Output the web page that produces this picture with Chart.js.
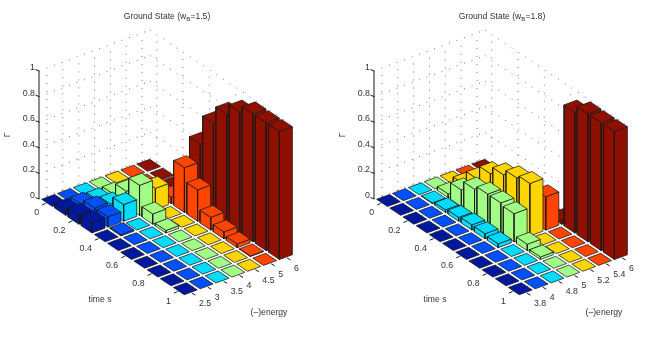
<!DOCTYPE html>
<html>
<head>
<meta charset="utf-8">
<title>Ground State</title>
<script src="https://cdn.jsdelivr.net/npm/chart.js@4"></script>
<style>
    html, body { margin: 0; padding: 0; background: #fff; }
    canvas { position: absolute; top: 0; }
</style>
</head>
<body>
<canvas id="leftChart" width="330" height="352" style="left:0"></canvas>
<canvas id="rightChart" width="330" height="352" style="left:335px"></canvas>
<script>
const timeTicks = ['0', '0.2', '0.4', '0.6', '0.8', '1'];
const gammaTicks = [0, 0.2, 0.4, 0.6, 0.8, 1];
const energyTicksLeft = ['2.5', '3', '3.5', '4', '4.5', '5', '6'];
const energyTicksRight = ['3.8', '4', '4.8', '5', '5.2', '5.4', '6'];
const columnColors = ['#00189e', '#0050ff', '#00dcff', '#a0ff84', '#ffd500', '#ff4500', '#8f1000'];

// one row per time step, one value per energy column
const gammaLeft = [
    [0, 0, 0, 0, 0, 0, 0],
    [0.04, 0.04, 0.03, 0.03, 0.01, 0, 0],
    [0.07, 0.08, 0.065, 0.12, 0.03, 0.01, 0.01],
    [0.08, 0.08, 0.13, 0.235, 0.165, 0.05, 0.15],
    [0, 0.01, 0, 0.08, 0, 0.35, 0.49],
    [0, 0, 0, 0.02, 0, 0.245, 0.72],
    [0, 0, 0, 0, 0, 0.1, 0.86],
    [0, 0, 0, 0, 0, 0.055, 0.945],
    [0, 0, 0, 0, 0, 0.03, 1],
    [0, 0, 0, 0, 0, 0.005, 1],
    [0, 0, 0, 0, 0, 0, 1],
];
const gammaRight = [
    [0, 0, 0, 0, 0, 0, 0],
    [0, 0, 0.005, 0.03, 0.06, 0, 0],
    [0, 0, 0.02, 0.13, 0.17, 0, 0],
    [0, 0, 0.03, 0.205, 0.28, 0, 0],
    [0, 0, 0.04, 0.235, 0.34, 0, 0],
    [0, 0, 0.04, 0.235, 0.385, 0, 0],
    [0, 0, 0.03, 0.22, 0.41, 0.26, 0.03],
    [0, 0, 0, 0.05, 0, 0, 0.945],
    [0, 0, 0, 0.02, 0, 0, 1],
    [0, 0, 0, 0, 0, 0, 1],
    [0, 0, 0, 0, 0, 0, 1],
];

// view of the 3D box on the flat x/y scales
const ORIGIN = { x: 39, y: 199 };
const TIME_VEC = { x: 145, y: 97 };
const ENERGY_VEC = { x: 111, y: -41 };
const Z_LEN = 128;
const BAR_HALF_T = 0.41;
const BAR_HALF_E = 0.41;
const TEXT_COLOR = '#333';
const EDGE_COLOR = '#1a1a1a';
const TICK_FONT = '8.8px "Liberation Sans"';
const LABEL_FONT = '8.6px "Liberation Sans"';
const SUB_FONT = '6.2px "Liberation Sans"';

function project(t, e, z) {
    return {
        x: ORIGIN.x + t * TIME_VEC.x + e * ENERGY_VEC.x,
        y: ORIGIN.y + t * TIME_VEC.y + e * ENERGY_VEC.y - z * Z_LEN,
    };
}

function gridLine(from, to) {
    return {
        data: [project(...from), project(...to)],
        showLine: true,
        fill: false,
        pointRadius: 0,
        borderWidth: 0.8,
        borderColor: '#555',
        borderDash: [1, 7],
    };
}

function solidLine(points) {
    return {
        data: points,
        showLine: true,
        fill: false,
        pointRadius: 0,
        borderWidth: 1,
        borderColor: EDGE_COLOR,
    };
}

function face(points, color) {
    return {
        data: [...points, points[0]],
        showLine: true,
        fill: 'shape',
        pointRadius: 0,
        borderWidth: 0.75,
        borderColor: EDGE_COLOR,
        backgroundColor: color,
        borderJoinStyle: 'round',
    };
}

function buildGrid(rows, cols) {
    const lines = [];
    gammaTicks.forEach((z) => {
        lines.push(gridLine([0, 0, z], [0, 1, z]));
        lines.push(gridLine([0, 1, z], [1, 1, z]));
    });
    for (let j = 0; j < cols; j++) {
        const e = (j + 0.5) / cols;
        lines.push(gridLine([0, e, 0], [0, e, 1]));
        lines.push(gridLine([0, e, 0], [1, e, 0]));
    }
    for (let i = 0; i < rows; i += 2) {
        const t = (i + 0.5) / rows;
        lines.push(gridLine([t, 1, 0], [t, 1, 1]));
        lines.push(gridLine([t, 0, 0], [t, 1, 0]));
    }
    return lines;
}

function buildAxes(rows, cols) {
    const lines = [solidLine([project(0, 0, 0), project(0, 0, 1)])];
    gammaTicks.forEach((z) => {
        const p = project(0, 0, z);
        lines.push(solidLine([p, { x: p.x - 3.5, y: p.y - 1.5 }]));
    });
    for (let i = 0; i < rows; i += 2) {
        const p = project((i + 0.5) / rows, 0, 0);
        lines.push(solidLine([p, { x: p.x - 3.5, y: p.y + 1.5 }]));
    }
    for (let j = 0; j < cols; j++) {
        const p = project(1, (j + 0.5) / cols, 0);
        lines.push(solidLine([p, { x: p.x + 3.5, y: p.y + 2 }]));
    }
    return lines;
}

function buildBars(values) {
    const faces = [];
    const rows = values.length;
    const cols = values[0].length;
    // back to front, so nearer bars paint over the ones behind
    for (let i = 0; i < rows; i++) {
        for (let j = cols - 1; j >= 0; j--) {
            const z = values[i][j];
            const color = columnColors[j];
            const t0 = (i + 0.5 - BAR_HALF_T) / rows;
            const t1 = (i + 0.5 + BAR_HALF_T) / rows;
            const e0 = (j + 0.5 - BAR_HALF_E) / cols;
            const e1 = (j + 0.5 + BAR_HALF_E) / cols;
            if (z > 0) {
                faces.push(face([project(t0, e0, 0), project(t1, e0, 0), project(t1, e0, z), project(t0, e0, z)], color));
                faces.push(face([project(t1, e0, 0), project(t1, e1, 0), project(t1, e1, z), project(t1, e0, z)], color));
            }
            faces.push(face([project(t0, e0, z), project(t1, e0, z), project(t1, e1, z), project(t0, e1, z)], color));
        }
    }
    return faces;
}

function drawTitle(ctx, xScale, yScale, value) {
    const parts = ['Ground State (w', 'B', `=${value})`];
    ctx.font = LABEL_FONT;
    const mainWidth = ctx.measureText(parts[0]).width + ctx.measureText(parts[2]).width;
    ctx.font = SUB_FONT;
    const subWidth = ctx.measureText(parts[1]).width;
    let x = xScale.getPixelForValue(167) - (mainWidth + subWidth) / 2;
    const y = yScale.getPixelForValue(17);
    ctx.textAlign = 'left';
    ctx.font = LABEL_FONT;
    ctx.fillText(parts[0], x, y);
    x += ctx.measureText(parts[0]).width;
    ctx.font = SUB_FONT;
    ctx.fillText(parts[1], x, y + 2.5);
    x += subWidth;
    ctx.font = LABEL_FONT;
    ctx.fillText(parts[2], x, y);
}

function labelsPlugin(titleValue, energyTicks, rows) {
    return {
        id: 'boxLabels',
        afterDraw(chart) {
            const { ctx, scales: { x: xScale, y: yScale } } = chart;
            const put = (text, p, dx, dy, align) => {
                ctx.textAlign = align;
                ctx.fillText(text, xScale.getPixelForValue(p.x + dx), yScale.getPixelForValue(p.y + dy));
            };
            ctx.save();
            ctx.fillStyle = TEXT_COLOR;
            ctx.textBaseline = 'middle';
            drawTitle(ctx, xScale, yScale, titleValue);

            ctx.font = TICK_FONT;
            gammaTicks.forEach((z) => put(String(z), project(0, 0, z), -4, -3.5, 'right'));
            timeTicks.forEach((label, k) => put(label, project((2 * k + 0.5) / rows, 0, 0), -6.5, 9.5, 'right'));
            energyTicks.forEach((label, j) => put(label, project(1, (j + 0.5) / energyTicks.length, 0), 7, 10.5, 'left'));
            ctx.font = LABEL_FONT;
            put('time s', { x: 100, y: 300 }, 0, 0, 'center');
            put('(\u2013)energy', { x: 269, y: 313 }, 0, 0, 'center');

            ctx.translate(xScale.getPixelForValue(8), yScale.getPixelForValue(135));
            ctx.rotate(-Math.PI / 2);
            ctx.textAlign = 'center';
            ctx.fillText('\u0393', 0, 0);
            ctx.restore();
        },
    };
}

function drawPanel(canvasId, values, energyTicks, titleValue) {
    const rows = values.length;
    const cols = values[0].length;
    // Chart.js paints dataset 0 last, so the painter's order gets reversed here
    const datasets = [...buildGrid(rows, cols), ...buildAxes(rows, cols), ...buildBars(values)].reverse();
    return new Chart(document.getElementById(canvasId), {
        type: 'scatter',
        data: { datasets },
        options: {
            responsive: false,
            animation: false,
            events: [],
            layout: { padding: 0 },
            elements: { line: { tension: 0 } },
            plugins: {
                legend: { display: false },
                tooltip: { enabled: false },
            },
            scales: {
                x: { type: 'linear', min: 0, max: 330, display: false },
                y: { type: 'linear', min: 0, max: 352, reverse: true, display: false },
            },
        },
        plugins: [labelsPlugin(titleValue, energyTicks, rows)],
    });
}

drawPanel('leftChart', gammaLeft, energyTicksLeft, '1.5');
drawPanel('rightChart', gammaRight, energyTicksRight, '1.8');
</script>
</body>
</html>
